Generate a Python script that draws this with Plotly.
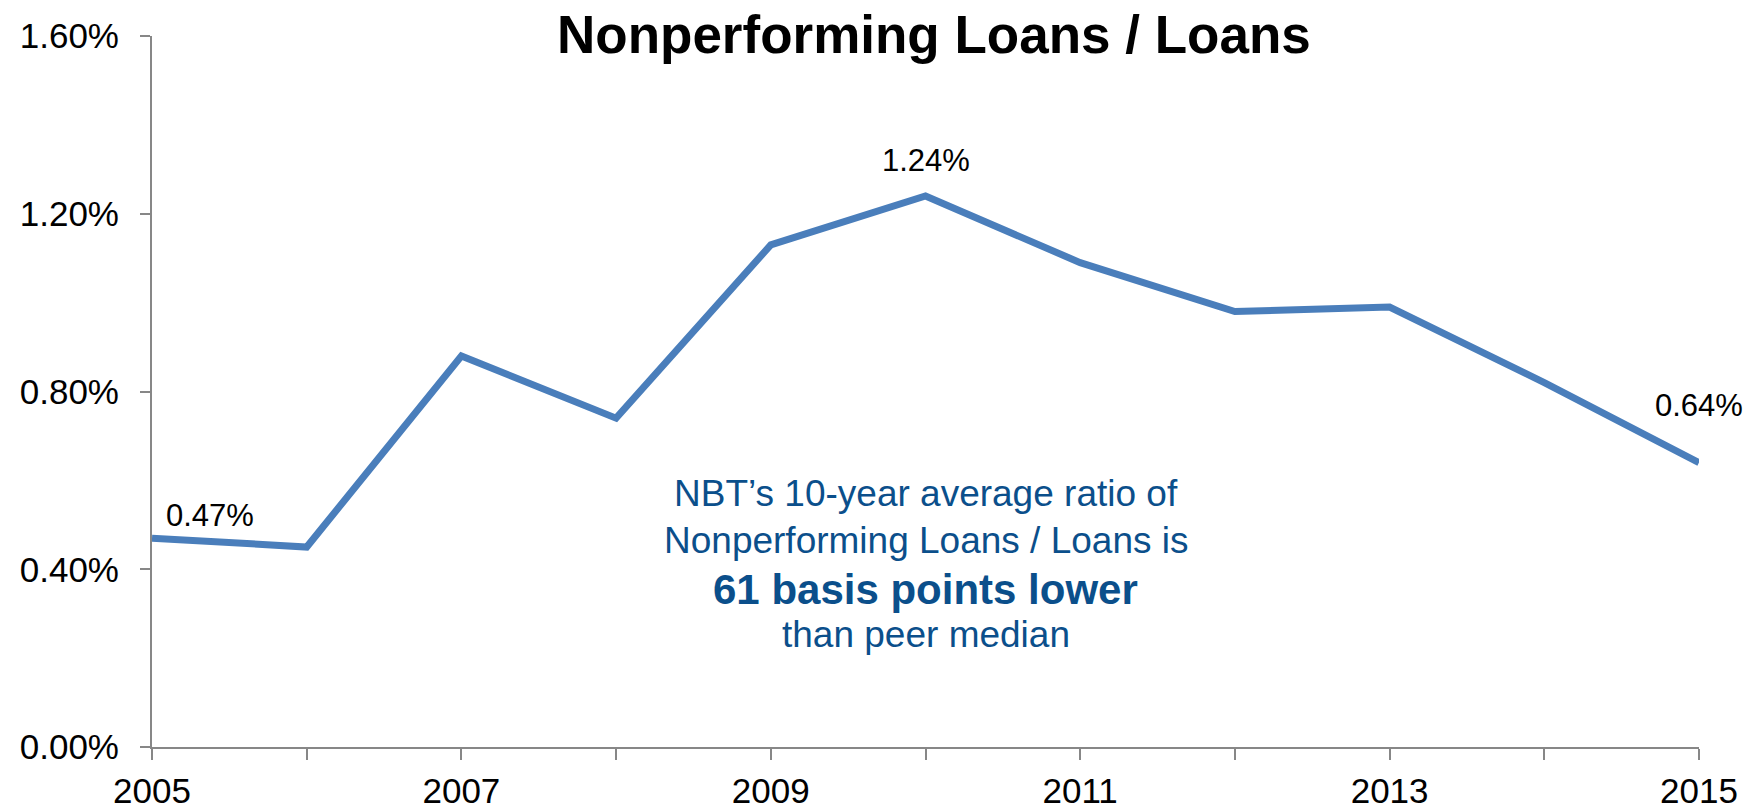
import plotly.graph_objects as go

years = [2005, 2006, 2007, 2008, 2009, 2010, 2011, 2012, 2013, 2014, 2015]
npl_ratio = [0.47, 0.45, 0.88, 0.74, 1.13, 1.24, 1.09, 0.98, 0.99, 0.82, 0.64]
y_ticks = [0.0, 0.4, 0.8, 1.2, 1.6]
y_tick_text = ["0.00%", "0.40%", "0.80%", "1.20%", "1.60%"]
x_tick_text = ["2005", "", "2007", "", "2009", "", "2011", "", "2013", "", "2015"]
labeled_years = [2005, 2010, 2015]

FONT = "Liberation Sans, Arial, sans-serif"
LINE_COLOR = "#4A7EBB"
TEXT_BLUE = "#0B4F8B"
AXIS_COLOR = "#878787"

fig = go.Figure()
fig.add_trace(go.Scatter(
    x=years, y=npl_ratio, mode="lines",
    line=dict(color=LINE_COLOR, width=7),
    hoverinfo="skip", showlegend=False,
))

# data labels
label_offsets = {2005: (12, 23, "left"), 2010: (0, 35, "center"), 2015: (0, 57, "center")}
for yr in labeled_years:
    v = npl_ratio[years.index(yr)]
    dx, dy, xa = label_offsets[yr]
    fig.add_annotation(
        x=yr, y=v, xref="x", yref="y", text=f"{v:.2f}%", showarrow=False,
        xanchor=xa, yanchor="middle", xshift=dx, yshift=dy,
        font=dict(family=FONT, size=31, color="black"),
    )

# title
fig.add_annotation(
    x=0.5, y=1.0, xref="paper", yref="paper", text="<b>Nonperforming Loans / Loans</b>",
    showarrow=False, xanchor="center", yanchor="middle", xshift=8, yshift=2,
    font=dict(family=FONT, size=53, color="black"),
)

# callout text
callout = [
    ("NBT’s 10-year average ratio of", 37, False, 0.356),
    ("Nonperforming Loans / Loans is", 37, False, 0.290),
    ("61 basis points lower", 42, True, 0.221),
    ("than peer median", 37, False, 0.158),
]
for txt, sz, bold, yp in callout:
    fig.add_annotation(
        x=0.5, y=yp, xref="paper", yref="paper",
        text=f"<b>{txt}</b>" if bold else txt, showarrow=False,
        xanchor="center", yanchor="middle",
        font=dict(family=FONT, size=sz, color=TEXT_BLUE),
    )

fig.update_layout(
    width=1756, height=809,
    margin=dict(l=152, r=57, t=36, b=62),
    paper_bgcolor="white", plot_bgcolor="white",
    showlegend=False,
)
fig.update_xaxes(
    range=[2005, 2015], tickmode="array", tickvals=years, ticktext=x_tick_text,
    showgrid=False, zeroline=False, showline=True, linecolor=AXIS_COLOR, linewidth=2,
    ticks="outside", ticklen=11, tickwidth=2, tickcolor=AXIS_COLOR,
    tickfont=dict(family=FONT, size=35, color="black"), ticklabelstandoff=1,
    automargin=False,
)
fig.update_yaxes(
    range=[0, 1.6], tickmode="array", tickvals=y_ticks, ticktext=y_tick_text,
    showgrid=False, zeroline=False, showline=True, linecolor=AXIS_COLOR, linewidth=2,
    ticks="outside", ticklen=10, tickwidth=2, tickcolor=AXIS_COLOR,
    tickfont=dict(family=FONT, size=35, color="black"), ticklabelstandoff=14,
    automargin=False,
)

fig.write_html("out.html")
